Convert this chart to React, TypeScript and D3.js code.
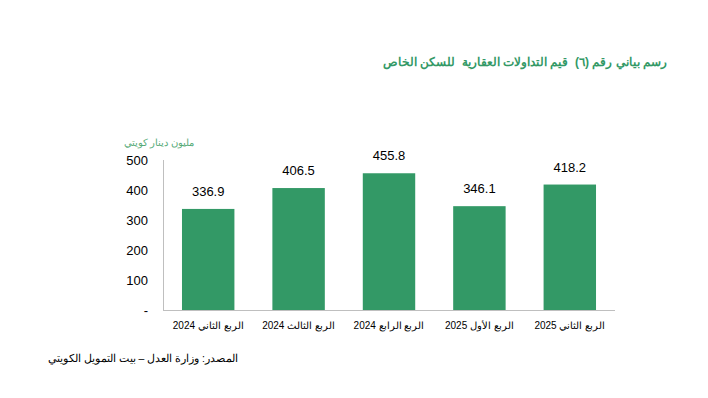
import { useRef, useEffect } from 'react';
import * as d3 from 'd3';

const categories = ['الربع الثاني 2024', 'الربع الثالث 2024', 'الربع الرابع 2024', 'الربع الأول 2025', 'الربع الثاني 2025'];
const values = [336.9, 406.5, 455.8, 346.1, 418.2];
const yTicks = [0, 100, 200, 300, 400, 500];

const TITLE = 'رسم بياني رقم (٦)  قيم التداولات العقارية  للسكن الخاص';
const UNIT = 'مليون دينار كويتي';
const SOURCE = 'المصدر: وزارة العدل – بيت التمويل الكويتي';

const GREEN = '#339966';
const FONT = 'Arial, "Liberation Sans", sans-serif';

export default function App() {
  const svgRef = useRef<SVGSVGElement>(null);

  useEffect(() => {
    const svg = d3.select(svgRef.current);
    svg.selectAll('*').remove();

    const left = 163, right = 615, top = 160, bottom = 310;

    const x = d3.scaleBand().domain(categories).range([left, right]).paddingInner(0.42).paddingOuter(0.21);
    const y = d3.scaleLinear().domain([0, 500]).range([bottom, top]);

    // title
    svg.append('text')
      .attr('x', 667).attr('y', 66)
      .attr('text-anchor', 'start')
      .attr('direction', 'rtl')
      .attr('fill', GREEN)
      .attr('font-family', FONT)
      .attr('font-weight', 'bold')
      .attr('font-size', 12)
      .style('white-space', 'pre')
      .text(TITLE);

    // unit label
    svg.append('text')
      .attr('x', 194).attr('y', 146)
      .attr('text-anchor', 'start')
      .attr('direction', 'rtl')
      .attr('fill', '#55aa77')
      .attr('font-family', FONT)
      .attr('font-size', 9.5)
      .text(UNIT);

    // y ticks
    svg.append('g').selectAll('text')
      .data(yTicks)
      .join('text')
      .attr('x', 148)
      .attr('y', d => y(d))
      .attr('dy', '0.35em')
      .attr('text-anchor', 'end')
      .attr('font-family', FONT)
      .attr('font-size', 13)
      .attr('fill', '#000')
      .text(d => (d === 0 ? '-' : String(d)));

    // axis lines
    svg.append('line')
      .attr('x1', left + 0.5).attr('x2', left + 0.5)
      .attr('y1', top).attr('y2', bottom)
      .attr('stroke', '#bfbfbf').attr('stroke-width', 1);
    // bars
    svg.append('g').selectAll('rect')
      .data(values)
      .join('rect')
      .attr('x', (d, i) => x(categories[i])!)
      .attr('width', x.bandwidth())
      .attr('y', d => y(d))
      .attr('height', d => bottom - y(d))
      .attr('fill', GREEN);

    svg.append('line')
      .attr('x1', left).attr('x2', right)
      .attr('y1', bottom + 0.5).attr('y2', bottom + 0.5)
      .attr('stroke', '#bfbfbf').attr('stroke-width', 1);

    // value labels
    svg.append('g').selectAll('text')
      .data(values)
      .join('text')
      .attr('x', (d, i) => x(categories[i])! + x.bandwidth() / 2)
      .attr('y', d => y(d) - 13)
      .attr('text-anchor', 'middle')
      .attr('font-family', FONT)
      .attr('font-size', 13)
      .attr('fill', '#000')
      .text(d => d.toFixed(1));

    // category labels
    svg.append('g').selectAll('text')
      .data(categories)
      .join('text')
      .attr('x', d => x(d)! + x.bandwidth() / 2)
      .attr('y', 329)
      .attr('text-anchor', 'middle')
      .attr('direction', 'rtl')
      .attr('font-family', FONT)
      .attr('font-size', 10)
      .attr('fill', '#000')
      .text(d => d);

    // source
    svg.append('text')
      .attr('x', 238).attr('y', 362)
      .attr('text-anchor', 'start')
      .attr('direction', 'rtl')
      .attr('font-family', FONT)
      .attr('font-size', 10.5)
      .attr('fill', '#000')
      .text(SOURCE);
  }, []);

  return (
    <div style={{ margin: -8 }}>
      <svg ref={svgRef} width={708} height={398} style={{ display: 'block', background: '#fff' }} />
    </div>
  );
}
